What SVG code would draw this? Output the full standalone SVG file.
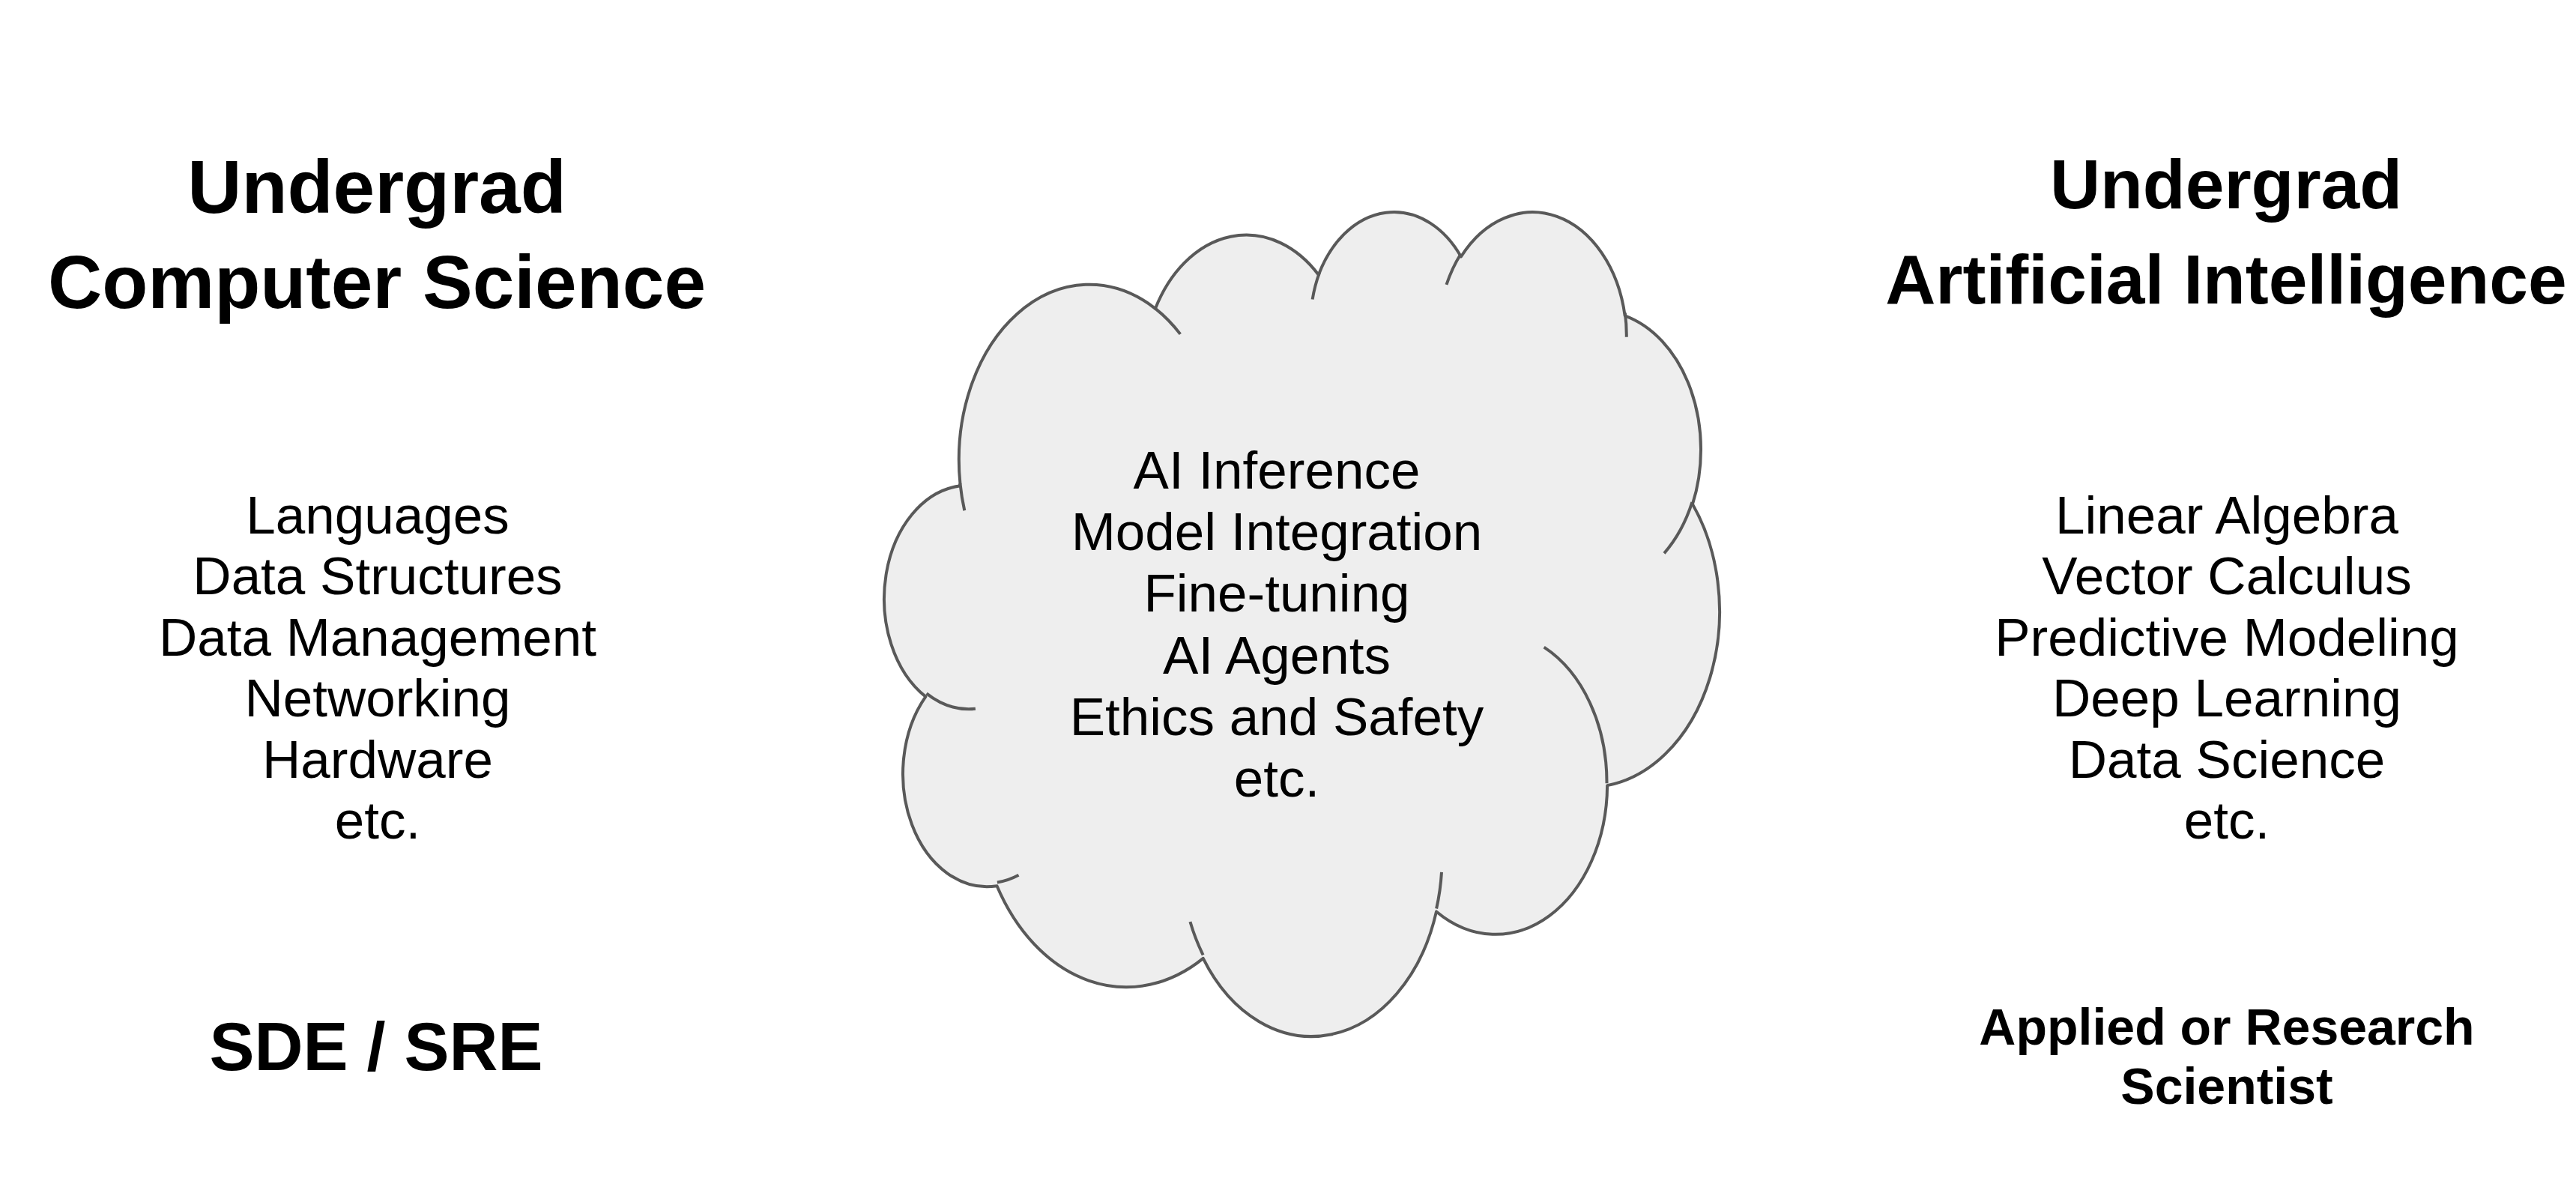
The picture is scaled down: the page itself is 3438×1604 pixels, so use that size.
<svg xmlns="http://www.w3.org/2000/svg" width="3438" height="1604" viewBox="0 0 3438 1604">
<style>
text{font-family:"Liberation Sans",Arial,sans-serif;fill:#000;text-anchor:middle}
.title{font-weight:bold}
.t1{font-size:100px}
.t2{font-size:93px}
.body{font-size:71px}
.role{font-weight:bold}
.cloud{fill:#eeeeee;stroke:#595959;stroke-width:4;vector-effect:non-scaling-stroke;stroke-linejoin:round}
.cloudin{fill:none;stroke:#595959;stroke-width:4;vector-effect:non-scaling-stroke;stroke-linecap:butt}
</style>
<rect width="3438" height="1604" fill="#ffffff"/>
<g id="cs-column">
  <text class="title t1" x="503" y="284">Undergrad</text>
  <text class="title t1" x="503" y="411">Computer Science</text>
  <text class="body" x="504" y="712">Languages</text>
  <text class="body" x="504" y="793">Data Structures</text>
  <text class="body" x="504" y="875">Data Management</text>
  <text class="body" x="504" y="956">Networking</text>
  <text class="body" x="504" y="1038">Hardware</text>
  <text class="body" x="504" y="1119">etc.</text>
</g>
<g id="sde-sre">
  <text class="role" x="502" y="1428" font-size="90">SDE / SRE</text>
</g>
<g id="shared-cloud">
  <g transform="translate(1180.9 279.4) scale(0.025778 0.025454)">
    <path class="cloud" d="M3900 14370A6753 9190 0 0 1 14005.9 5202.7A5333 7267 0 0 1 22456.7 3432.6A4365 5945 0 0 1 29832.3 2478.3A4857 6595 0 0 1 38317.5 5573.6A5333 7273 0 0 1 41818 15457.3A6775 9220 0 0 1 37404.6 30201.8A5785 7867 0 0 1 28556.1 36812A6752 9215 0 0 1 16481.3 39264.9A7720 10543 0 0 1 5804.9 35468.2A4360 5918 0 0 1 2114.3 25545.4A4345 5945 0 0 1 3865.1 14502.4Z"/>
    <path class="cloudin" d="M4693 26177A4345 5945 0 0 1 2159.1 25379.4M6928 34899A4360 5918 0 0 1 5819.5 35280.5M16478 39090A6752 9215 0 0 1 15809.3 37348.1M28827 34751A6752 9215 0 0 1 28560.4 36659.8M34129 22954A5785 7867 0 0 1 37380 30089.3M41798 15354A5333 7273 0 0 1 40350.3 18029.7M38324 5426A4857 6595 0 0 1 38400.4 6689.5M29078 3952A4857 6595 0 0 1 29819.8 2340.1M22141 4720A4365 5945 0 0 1 22500 3330.6M14000 5192A6753 9190 0 0 1 15299.1 6539.8M4127 15789A6753 9190 0 0 1 3900.2 14370.6"/>
  </g>
  <text class="body" x="1704" y="652">AI Inference</text>
  <text class="body" x="1704" y="734">Model Integration</text>
  <text class="body" x="1704" y="816">Fine-tuning</text>
  <text class="body" x="1704" y="899">AI Agents</text>
  <text class="body" x="1704" y="981">Ethics and Safety</text>
  <text class="body" x="1704" y="1063">etc.</text>
</g>
<g id="ai-column">
  <text class="title t2" x="2971" y="278">Undergrad</text>
  <text class="title t2" x="2971" y="405">Artificial Intelligence</text>
  <text class="body" x="2972" y="712">Linear Algebra</text>
  <text class="body" x="2972" y="793">Vector Calculus</text>
  <text class="body" x="2972" y="875">Predictive Modeling</text>
  <text class="body" x="2972" y="956">Deep Learning</text>
  <text class="body" x="2972" y="1038">Data Science</text>
  <text class="body" x="2972" y="1119">etc.</text>
</g>
<g id="scientist">
  <text class="role" x="2972" y="1394" font-size="68">Applied or Research</text>
  <text class="role" x="2972" y="1473" font-size="68">Scientist</text>
</g>
<g id="connectors"></g>
</svg>
